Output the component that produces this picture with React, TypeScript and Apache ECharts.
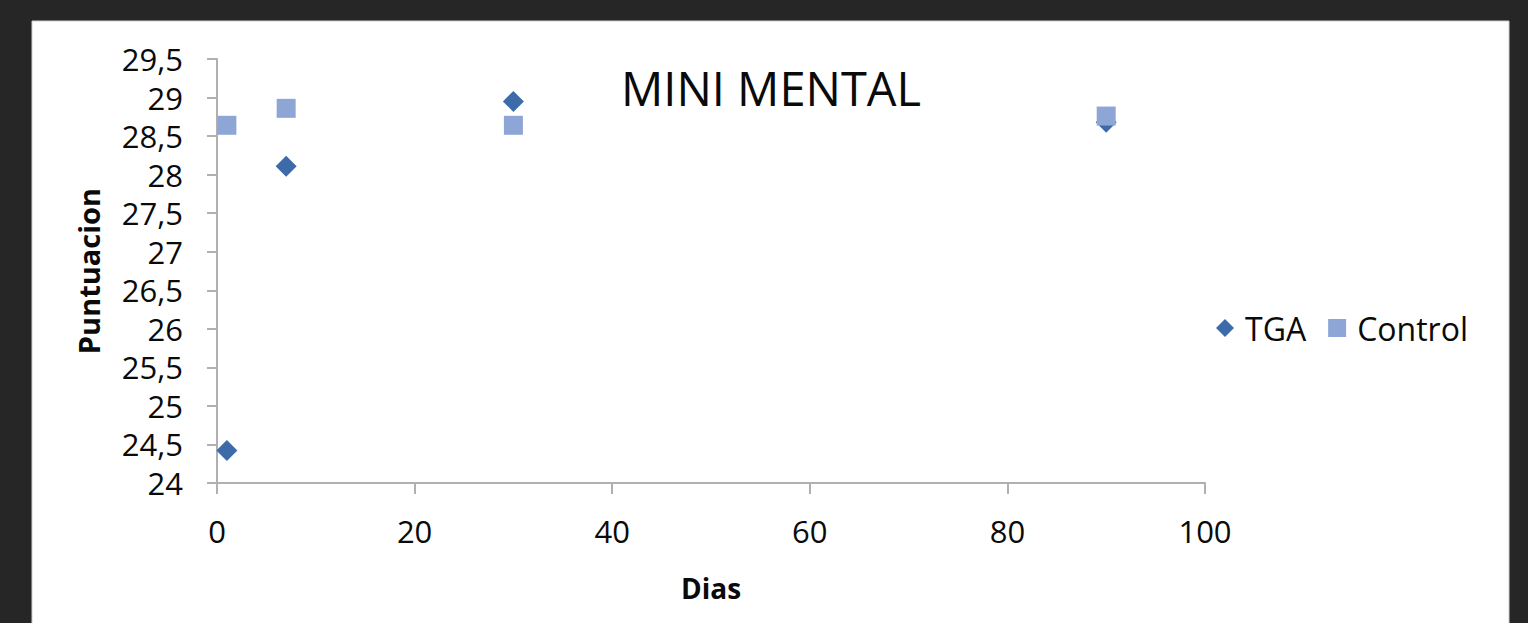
import React, { useEffect, useRef } from "react";
import * as echarts from "echarts";

const TITLE = "MINI MENTAL";
const X_NAME = "Dias";
const Y_NAME = "Puntuacion";
const SERIES_NAMES = ["TGA", "Control"];
const DAYS = [1, 7, 30, 90];
const TGA_VALUES = [24.42, 28.11, 28.95, 28.68];
const CONTROL_VALUES = [28.64, 28.86, 28.64, 28.76];

const FONT = "'Open Sans', 'Noto Sans', sans-serif";

export default function App() {
  const ref = useRef<HTMLDivElement>(null);
  useEffect(() => {
    if (!ref.current) return;
    const chart = echarts.init(ref.current, null, { renderer: "svg" });
    const tga = DAYS.map((d, i) => [d, TGA_VALUES[i]]);
    const ctrl = DAYS.map((d, i) => [d, CONTROL_VALUES[i]]);
    chart.setOption({
      animation: false,
      backgroundColor: "#262626",
      textStyle: { fontFamily: FONT },
      graphic: [
        {
          type: "rect",
          z: -10,
          silent: true,
          shape: { x: 32, y: 21, width: 1477, height: 610 },
          style: { fill: "#ffffff", stroke: "#d0d0d0", lineWidth: 1 },
        },
      ],
      title: {
        text: TITLE,
        left: 621,
        top: 64,
        padding: 0,
        textStyle: { fontFamily: FONT, fontSize: 47, fontWeight: "normal", color: "#0a0a0a" },
      },
      legend: {
        left: 1216,
        top: 312,
        itemWidth: 18,
        itemHeight: 18,
        itemGap: 22,
        padding: 0,
        textStyle: { fontFamily: FONT, fontSize: 32, color: "#0a0a0a", padding: [0, 0, 0, 6] },
        data: [
          { name: SERIES_NAMES[0], icon: "diamond", itemStyle: { opacity: 1 } },
          { name: SERIES_NAMES[1], icon: "rect", itemStyle: { opacity: 1 } },
        ],
      },
      grid: { left: 217, right: 323, top: 59, bottom: 140 },
      xAxis: {
        type: "value",
        min: 0,
        max: 100,
        interval: 20,
        name: X_NAME,
        nameLocation: "middle",
        nameGap: 91,
        nameTextStyle: { fontFamily: FONT, fontSize: 28, fontWeight: "bold", color: "#0a0a0a" },
        axisLine: { show: true, lineStyle: { color: "#b0b0b0", width: 2 } },
        axisTick: { show: true, length: 11, lineStyle: { color: "#b0b0b0", width: 2 } },
        splitLine: { show: false },
        axisLabel: { fontFamily: FONT, fontSize: 31, color: "#0a0a0a", margin: 32 },
      },
      yAxis: {
        type: "value",
        min: 24,
        max: 29.5,
        interval: 0.5,
        name: Y_NAME,
        nameLocation: "middle",
        nameGap: 114,
        nameTextStyle: { fontFamily: FONT, fontSize: 29, fontWeight: "bold", color: "#0a0a0a" },
        axisLine: { show: true, lineStyle: { color: "#b0b0b0", width: 2 } },
        axisTick: { show: true, length: 10, lineStyle: { color: "#b0b0b0", width: 2 } },
        splitLine: { show: false },
        axisLabel: {
          fontFamily: FONT,
          fontSize: 31,
          color: "#0a0a0a",
          margin: 34,
          formatter: (v: number) => String(v).replace(".", ","),
        },
      },
      series: [
        {
          name: SERIES_NAMES[0],
          type: "scatter",
          symbol: "diamond",
          symbolSize: 21,
          itemStyle: { color: "#3d6ba9", opacity: 1 },
          data: tga,
        },
        {
          name: SERIES_NAMES[1],
          type: "scatter",
          symbol: "rect",
          symbolSize: 19,
          itemStyle: { color: "#8ea6d6", opacity: 1 },
          data: ctrl,
        },
      ],
    });
    return () => chart.dispose();
  }, []);
  return (
    <div
      ref={ref}
      style={{ position: "fixed", left: 0, top: 0, width: 1528, height: 623 }}
    />
  );
}
